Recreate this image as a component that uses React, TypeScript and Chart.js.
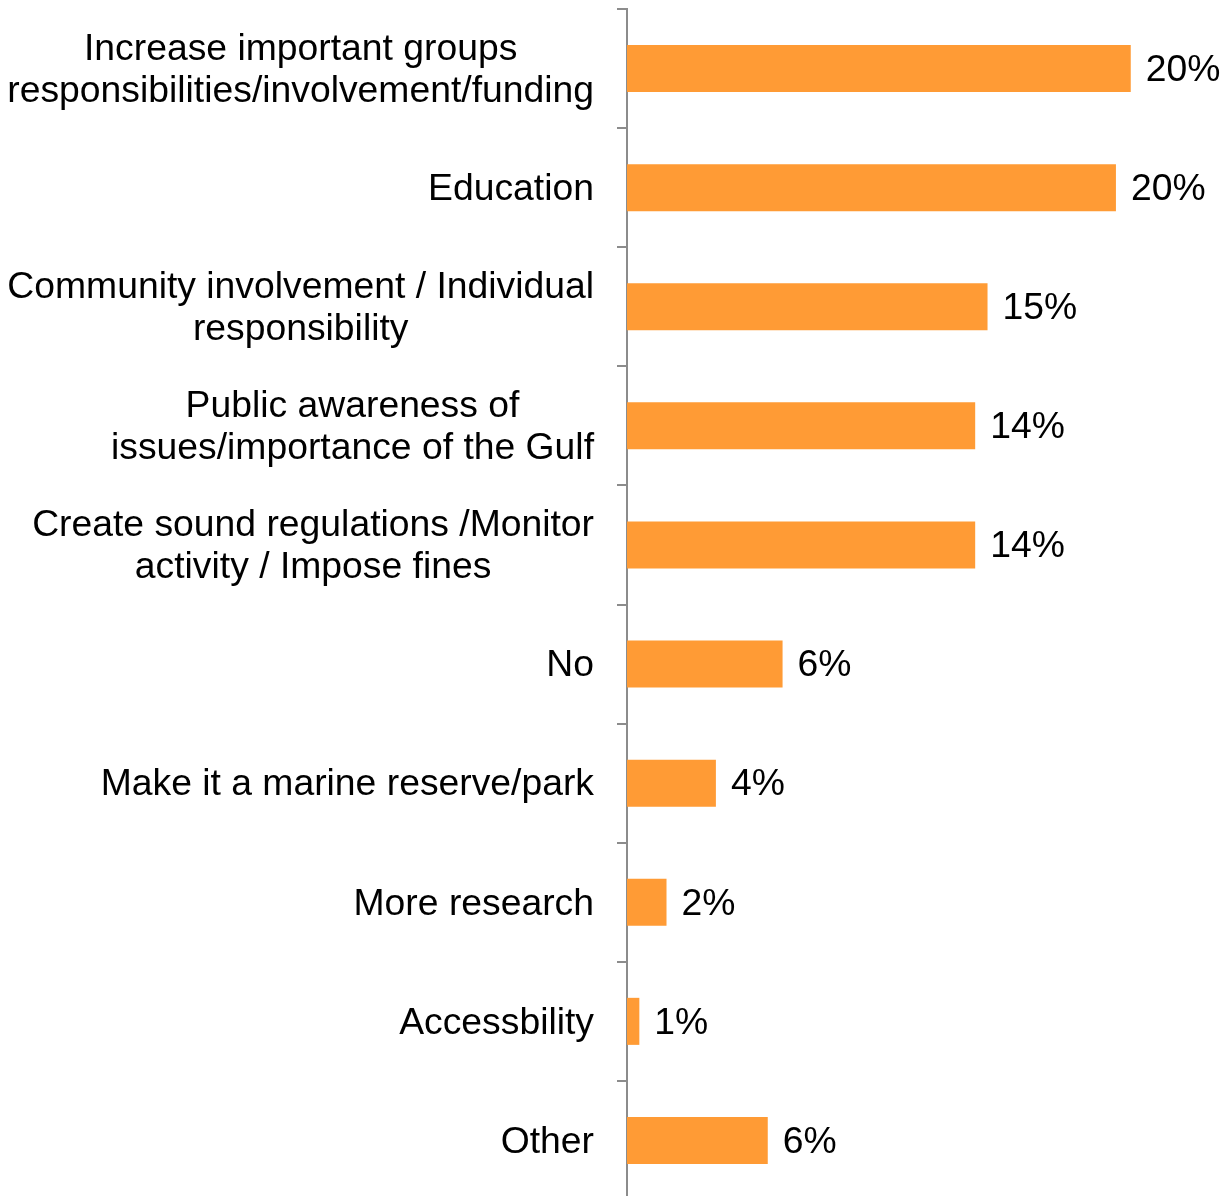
import React, { useEffect, useRef } from "react";
import { Chart, registerables } from "chart.js";

Chart.register(...registerables);

const categories: string[][] = [
  ["Increase important groups", "responsibilities/involvement/funding"],
  ["Education"],
  ["Community involvement / Individual", "responsibility"],
  ["Public awareness of", "issues/importance of the Gulf"],
  ["Create sound regulations /Monitor", "activity / Impose fines"],
  ["No"],
  ["Make it a marine reserve/park"],
  ["More research"],
  ["Accessbility"],
  ["Other"],
];

const values: number[] = [20.4, 19.8, 14.6, 14.1, 14.1, 6.3, 3.6, 1.6, 0.5, 5.7];
const valueLabels: string[] = ["20%", "20%", "15%", "14%", "14%", "6%", "4%", "2%", "1%", "6%"];

const FONT = "37.3px 'Liberation Sans', Arial, sans-serif";
const BAR_COLOR = "#FF9B35";
const AXIS_COLOR = "#8C8C8C";

export default function App() {
  const ref = useRef<HTMLCanvasElement | null>(null);

  useEffect(() => {
    document.body.style.margin = "0";
    document.body.style.overflow = "hidden";
    const canvas = ref.current!;
    const labelPlugin = {
      id: "customLabels",
      afterDraw(chart: any) {
        const ctx = chart.ctx;
        const yScale = chart.scales.y;
        const meta = chart.getDatasetMeta(0);
        ctx.save();
        ctx.font = FONT;
        ctx.fillStyle = "#000";
        ctx.textBaseline = "middle";
        categories.forEach((lines, i) => {
          const y = yScale.getPixelForTick(i) + 2;
          const widest = Math.max(...lines.map((l) => ctx.measureText(l).width));
          const cx = 594 - widest / 2;
          const lh = 42;
          const startY = y - ((lines.length - 1) * lh) / 2;
          ctx.textAlign = "center";
          lines.forEach((l, j) => ctx.fillText(l, cx, startY + j * lh));
        });
        ctx.textAlign = "left";
        meta.data.forEach((bar: any, i: number) => {
          ctx.fillText(valueLabels[i], bar.x + 15, bar.y + 2);
        });
        ctx.restore();
      },
    };
    const chart = new Chart(canvas, {
      type: "bar",
      data: {
        labels: categories.map((c) => c.join(" ")),
        datasets: [
          {
            data: values,
            backgroundColor: BAR_COLOR,
            borderWidth: 0,
            barPercentage: 0.395,
            categoryPercentage: 1,
          },
        ],
      },
      options: {
        indexAxis: "y",
        responsive: false,
        animation: false,
        devicePixelRatio: 1,
        layout: { padding: { top: 9, bottom: 0, left: 0, right: 0 } },
        plugins: {
          legend: { display: false },
          tooltip: { enabled: false },
        },
        scales: {
          x: {
            display: false,
            min: 0,
            max: 24.5,
          },
          y: {
            afterFit: (scale: any) => {
              scale.width = 627;
            },
            ticks: { display: false },
            grid: {
              offset: true,
              drawOnChartArea: false,
              drawTicks: true,
              tickLength: 10,
              color: AXIS_COLOR,
              lineWidth: 2,
            },
            border: { display: true, color: AXIS_COLOR, width: 2 },
          },
        },
      },
      plugins: [labelPlugin],
    } as any);
    return () => chart.destroy();
  }, []);

  return <canvas ref={ref} width={1232} height={1200} style={{ display: "block" }} />;
}
